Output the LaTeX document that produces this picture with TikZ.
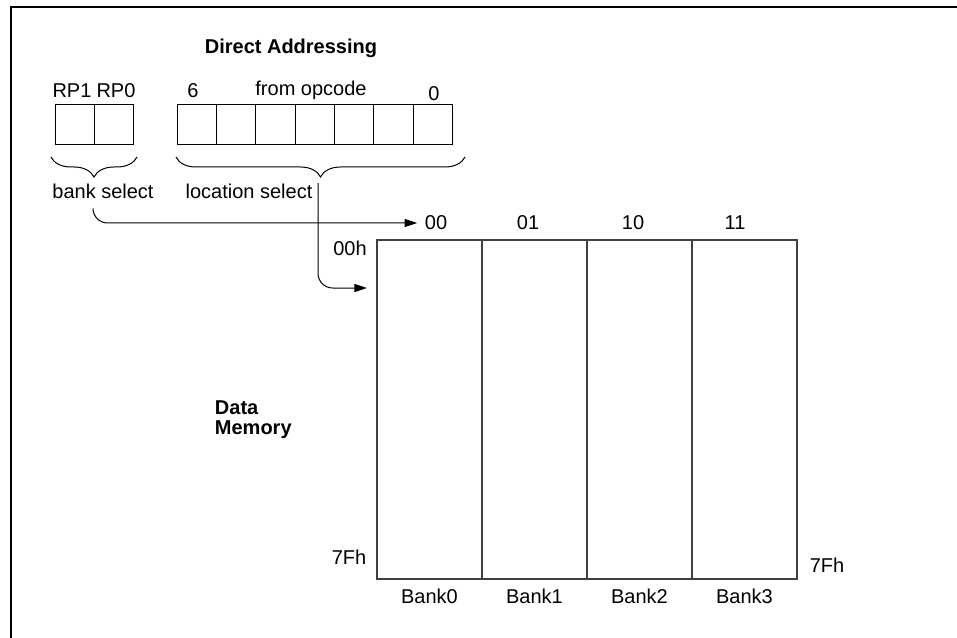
\documentclass[tikz,border=0pt]{standalone}
\usepackage{fontspec}
\setmainfont{Liberation Sans}
\usetikzlibrary{positioning, arrows.meta}
\usetikzlibrary{decorations.pathreplacing}
\tikzset{
	bitbox/.style={draw, rectangle, inner sep=0pt, outer sep=0pt, minimum width=29.5pt, minimum height=30pt},
	bankcol/.style={draw=black!75, line width=1pt, rectangle, inner sep=0pt, outer sep=0pt, minimum width=78.75pt, minimum height=254.25pt},
	heading/.style={font=\fontsize{15}{15}\selectfont\bfseries},
	% curly brace under a register
	regbrace/.style={decorate, decoration={brace, mirror, amplitude=15pt}},
}

\begin{document}
\begin{tikzpicture}[x=0.75pt, y=-0.75pt, font=\fontsize{15}{15}\selectfont, line width=0.75pt]
	\useasboundingbox (0,0) rectangle (957,638);
	\draw[line width=1.5pt] (11,638) -- (11,7.5) -- (957,7.5);

	\node (title) [heading] at (291,48) {Direct Addressing};

	% bank select bits
	\node (rp1) [bitbox] at (74.7,125) {};
	\node (rp0) [bitbox, right=0pt of rp1] {};
	\node (rp1lbl) at (72,91) {RP1};
	\node (rp0lbl) at (116,91) {RP0};

	% location bits from opcode
	\node (op6) [bitbox] at (196.7,125) {};
	\foreach \i/\j in {6/5,5/4,4/3,3/2,2/1,1/0}
		\node (op\j) [bitbox, right=0pt of op\i] {};
	\node (bit6) at (193,91) {6};
	\node (src) at (311,90) {from opcode};
	\node (bit0) at (434,94) {0};

	\draw[regbrace] (51,157) -- (137,157);
	\draw[regbrace] (176,157) -- (465,157);
	\node (banksel) at (103,191) {bank select};
	\node (locsel) at (249,191) {location select};

	% data memory banks
	\node (bk0) [bankcol] at (429.5,409.5) {};
	\node (bk1) [bankcol, right=0pt of bk0] {};
	\node (bk2) [bankcol, right=0pt of bk1] {};
	\node (bk3) [bankcol, right=0pt of bk2] {};
	\foreach \i/\h/\x in {0/00/436,1/01/528,2/10/633,3/11/735}
		\node (hd\i) at (\x,223) {\h};
	\foreach \i in {0,...,3}
		\node (lb\i) [below=4pt of bk\i] {Bank\i};
	\node (adtop) at (350,248) {00h};
	\node (adbotl) at (349,557) {7Fh};
	\node (adbotr) at (827,565) {7Fh};
	\node (dmem) [heading, align=left, anchor=west] at (210,420) {Data\\Memory};

	\coordinate (bsel) at (93,209);
	\coordinate (lsel) at (318,183);
	\coordinate (lhit) at (367,288);

	\begin{scope}[-{Triangle[length=9.5pt,width=6pt]}, rounded corners=11pt]
		\draw (bsel) |- ([xshift=-2pt]hd0.west);
		\draw (lsel) |- (lhit);
	\end{scope}
\end{tikzpicture}
\end{document}
